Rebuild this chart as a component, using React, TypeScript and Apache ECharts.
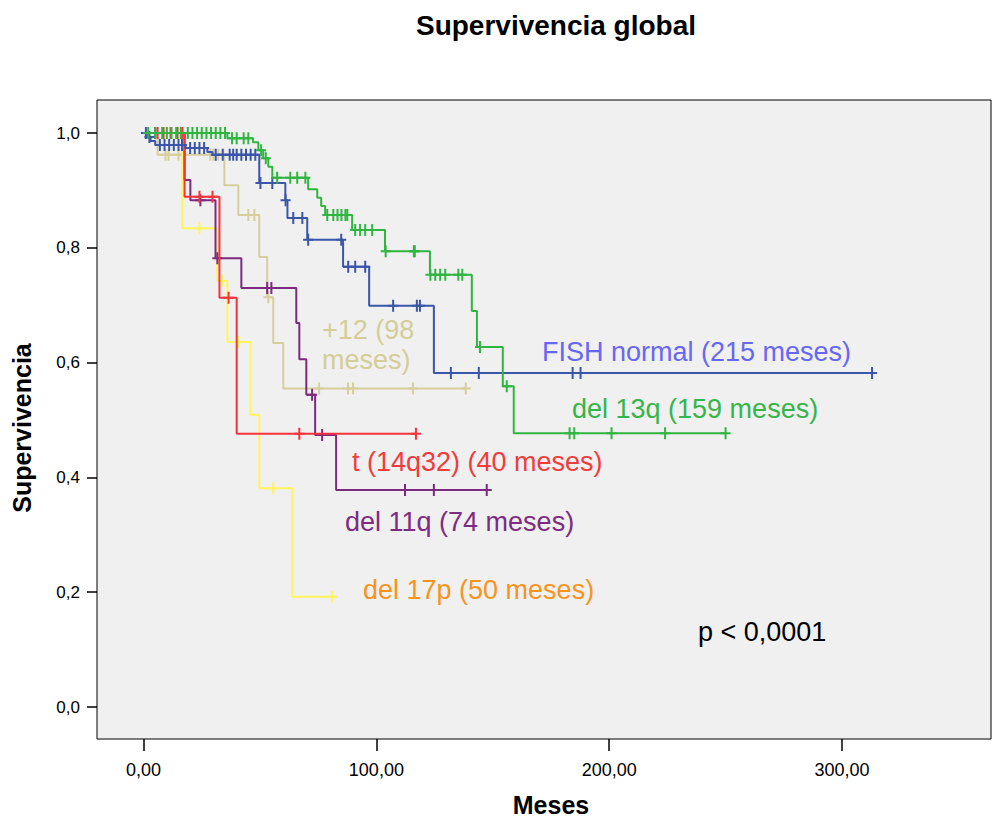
import React, { useEffect, useRef } from "react";
import * as echarts from "echarts";

// ---- Data (months, survival) ----
const blueTimes = [0, 1.7, 3, 5, 18, 27.4, 29.6, 49.7, 60.9, 61.8, 70.3, 85.7, 96.9, 124.7, 312.9];
const blueSurv = [1.0, 0.993, 0.986, 0.979, 0.974, 0.967, 0.962, 0.913, 0.883, 0.852, 0.814, 0.767, 0.699, 0.582, 0.582];
const blueCensor = [1, 2.5, 7, 9, 11, 13, 15, 16.5, 20, 22, 24, 26, 31, 34, 37, 38.5, 40, 42, 44, 46, 48, 50.2, 55.3, 61, 64.3, 68.2, 70.7, 84.9, 87.9, 90.9, 95.2, 107.2, 117.4, 118.7, 132, 144, 184.3, 187.7, 312.9];

const greenTimes = [0, 36, 47, 49.3, 51.4, 53.6, 55.3, 70.7, 74.6, 76.3, 78, 89.6, 103.7, 123, 141, 143.2, 154.3, 159, 250];
const greenSurv = [1.0, 0.991, 0.984, 0.97, 0.956, 0.941, 0.922, 0.902, 0.887, 0.873, 0.857, 0.831, 0.794, 0.753, 0.69, 0.627, 0.559, 0.477, 0.477];
const greenCensor = [2, 5, 8, 10, 12, 14, 16, 19, 21, 23, 25, 27, 29, 31, 33, 35, 38, 40, 43, 45, 50.5, 52.5, 57.4, 63, 66, 69.5, 78.9, 81.5, 83.3, 85, 86.7, 87.5, 90.9, 93, 95.2, 98.2, 104, 116.1, 116.5, 123.2, 125.3, 127.4, 129.6, 135.2, 136.9, 144.5, 156, 183, 185, 201, 224, 250];

const redTimes = [0, 17.6, 32.6, 40, 117];
const redSurv = [1.0, 0.889, 0.713, 0.476, 0.476];
const redCensor = [6, 8.6, 11.6, 14.6, 16.7, 24, 29.6, 36.5, 66.9, 117];

const purpleTimes = [0, 17.6, 20.1, 30.9, 42, 65.6, 66.9, 69.9, 73.7, 82.7, 147.4];
const purpleSurv = [1.0, 0.918, 0.883, 0.782, 0.73, 0.669, 0.606, 0.544, 0.474, 0.378, 0.378];
const purpleCensor = [5, 24.4, 31.7, 53.1, 54.9, 72.4, 76.7, 112.3, 124.7, 147.4];

const beigeTimes = [0, 6, 34.7, 40.7, 49.7, 53.1, 55.7, 60, 138.4];
const beigeSurv = [1.0, 0.962, 0.909, 0.857, 0.784, 0.714, 0.634, 0.555, 0.555];
const beigeCensor = [9.4, 10.7, 15, 17, 28.7, 30, 32.1, 34.3, 45, 47.6, 53.6, 75.4, 87.8, 90, 115.7, 138.4];

const yellowTimes = [0, 16.7, 31.7, 36, 45.9, 49.7, 63.9, 81];
const yellowSurv = [1.0, 0.834, 0.742, 0.636, 0.509, 0.381, 0.192, 0.192];
const yellowCensor = [24, 33.9, 40.7, 55.7, 81];

const xTicks = [0, 100, 200, 300];
const yTicks = [0, 0.2, 0.4, 0.6, 0.8, 1.0];

const FONT = "'Liberation Sans', Arial, Helvetica, sans-serif";
const PLUS = "path://M-1,-6L1,-6L1,-1L5,-1L5,1L1,1L1,6L-1,6L-1,1L-5,1L-5,-1L-1,-1Z";

function survAt(times: number[], surv: number[], t: number) {
  let v = surv[0];
  for (let i = 0; i < times.length; i++) {
    if (times[i] <= t) v = surv[i];
  }
  return v;
}

const groups = [
  { name: "+12", times: beigeTimes, surv: beigeSurv, censor: beigeCensor, color: "#d6cf9c" },
  { name: "del 17p", times: yellowTimes, surv: yellowSurv, censor: yellowCensor, color: "#fff55e" },
  { name: "del 11q", times: purpleTimes, surv: purpleSurv, censor: purpleCensor, color: "#7b2a80" },
  { name: "t (14q32)", times: redTimes, surv: redSurv, censor: redCensor, color: "#f4343a" },
  { name: "FISH normal", times: blueTimes, surv: blueSurv, censor: blueCensor, color: "#3b56a8" },
  { name: "del 13q", times: greenTimes, surv: greenSurv, censor: greenCensor, color: "#31b541" },
];

export default function App() {
  const ref = useRef<HTMLDivElement>(null);
  useEffect(() => {
    document.body.style.margin = "0";
    if (!ref.current) return;
    const chart = echarts.init(ref.current, null, { renderer: "svg" });
    const series: any[] = [];
    groups.forEach((g, i) => {
      series.push({
        type: "line",
        name: g.name,
        step: "end",
        showSymbol: false,
        data: g.times.map((t, k) => [t, g.surv[k]]),
        lineStyle: { color: g.color, width: 2 },
        itemStyle: { color: g.color },
        z: 2 + i,
        silent: true,
      });
    });
    groups.forEach((g, i) => {
      series.push({
        type: "scatter",
        name: g.name + " censored",
        symbol: PLUS,
        symbolSize: [10, 12],
        data: g.censor.map((t) => [t, survAt(g.times, g.surv, t)]),
        itemStyle: { color: g.color, opacity: 1 },
        z: 2 + i,
        silent: true,
      });
    });
    const labelTexts = [
      { text: "+12 (98", x: 322, y: 330, color: "#d4cd98" },
      { text: "meses)", x: 322, y: 360, color: "#d4cd98" },
      { text: "FISH normal (215 meses)", x: 542, y: 352, color: "#6767f5" },
      { text: "del 13q (159 meses)", x: 572, y: 409, color: "#36b54a" },
      { text: "t (14q32) (40 meses)", x: 352, y: 462, color: "#f23c3c" },
      { text: "del 11q (74 meses)", x: 345, y: 522, color: "#7d2c82" },
      { text: "del 17p (50 meses)", x: 363, y: 590, color: "#f7941d" },
      { text: "p < 0,0001", x: 698, y: 632, color: "#000000" },
    ];
    chart.setOption({
      animation: false,
      backgroundColor: "#ffffff",
      grid: {
        left: 97,
        top: 100,
        right: 1,
        bottom: 80,
        show: true,
        backgroundColor: "#f0f0f0",
        borderColor: "#000",
        borderWidth: 1,
      },
      xAxis: {
        type: "value",
        min: -20,
        max: 364,
        axisLine: { show: false, onZero: false },
        splitLine: { show: false },
        axisTick: { show: true, customValues: xTicks, length: 12, lineStyle: { color: "#000", width: 1.5 } },
        axisLabel: {
          customValues: xTicks,
          margin: 22,
          fontSize: 18,
          fontFamily: FONT,
          color: "#000",
          formatter: (v: number) => v.toFixed(2).replace(".", ","),
        },
      },
      yAxis: {
        type: "value",
        min: -0.0557,
        max: 1.0575,
        axisLine: { show: false, onZero: false },
        splitLine: { show: false },
        axisTick: { show: true, customValues: yTicks, length: 10, lineStyle: { color: "#000", width: 1.5 } },
        axisLabel: {
          customValues: yTicks,
          margin: 17,
          fontSize: 17,
          fontFamily: FONT,
          color: "#000",
          formatter: (v: number) => v.toFixed(1).replace(".", ","),
        },
      },
      series,
      graphic: [
        {
          type: "text",
          x: 556,
          y: 25,
          style: {
            text: "Supervivencia global",
            font: `bold 28px ${FONT}`,
            fill: "#000",
            align: "center",
            verticalAlign: "middle",
          },
        },
        {
          type: "text",
          x: 551,
          y: 805,
          style: {
            text: "Meses",
            font: `bold 25px ${FONT}`,
            fill: "#000",
            align: "center",
            verticalAlign: "middle",
          },
        },
        {
          type: "text",
          x: 22,
          y: 428,
          rotation: Math.PI / 2,
          style: {
            text: "Supervivencia",
            font: `bold 25px ${FONT}`,
            fill: "#000",
            align: "center",
            verticalAlign: "middle",
          },
        },
        ...labelTexts.map((l) => ({
          type: "text",
          x: l.x,
          y: l.y,
          z: 100,
          style: {
            text: l.text,
            font: `27px ${FONT}`,
            fill: l.color,
            align: "left",
            verticalAlign: "middle",
          },
        })),
      ],
    });
    return () => chart.dispose();
  }, []);
  return <div ref={ref} style={{ width: 992, height: 819 }} />;
}
